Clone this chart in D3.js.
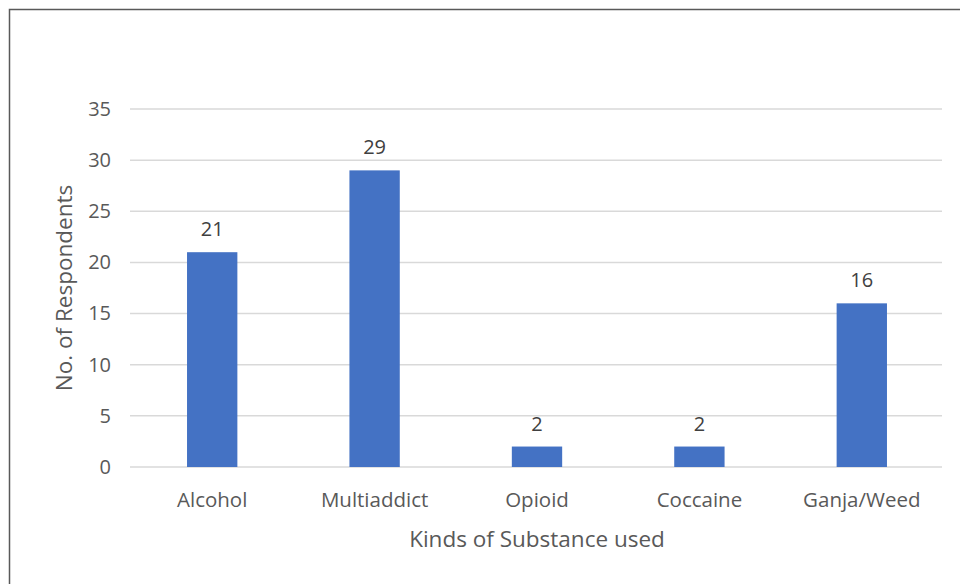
<!DOCTYPE html>
<html><head><meta charset="utf-8">
<script src="https://cdn.jsdelivr.net/npm/d3@7"></script>
<style>
html,body{margin:0;padding:0;background:#fff;}
svg{display:block;}
text{font-family:"Open Sans",sans-serif;}
</style></head>
<body>
<svg id="chart" width="960" height="584"></svg>
<script>
const categories = ["Alcohol","Multiaddict","Opioid","Coccaine","Ganja/Weed"];
const values = [21,29,2,2,16];
const yTicks = [0,5,10,15,20,25,30,35];
const xTitle = "Kinds of Substance used";
const yTitle = "No. of Respondents";

const svg = d3.select("#chart");
const mLeft = 130, mRight = 942, mTop = 109, mBottom = 467;

// outer border (top and left visible)
svg.append("path").attr("d","M9.5,584 L9.5,9.5 L960,9.5")
  .attr("fill","none").attr("stroke","#595959").attr("stroke-width",1.5);

const x = d3.scaleBand().domain(categories).range([mLeft,mRight]).paddingInner(0.69).paddingOuter(0.345);
const y = d3.scaleLinear().domain([0,35]).range([mBottom,mTop]);

// gridlines
svg.append("g").selectAll("line").data(yTicks).join("line")
  .attr("x1",mLeft).attr("x2",mRight)
  .attr("y1",d=>y(d)).attr("y2",d=>y(d))
  .attr("stroke","#d9d9d9").attr("stroke-width",1.5);

// y axis labels
const yAxis = d3.axisLeft(y).tickValues(yTicks).tickSize(0).tickPadding(0);
const gy = svg.append("g").attr("transform",`translate(111,0)`).call(yAxis);
gy.select(".domain").remove();
gy.selectAll("text").attr("fill","#595959").style("font-size","20px").style("font-family","'Open Sans',sans-serif");

// bars
svg.append("g").selectAll("rect").data(values).join("rect")
  .attr("x",(d,i)=>x(categories[i])+1)
  .attr("width",x.bandwidth())
  .attr("y",d=>y(d))
  .attr("height",d=>y(0)-y(d))
  .attr("fill","#4472C4");

// data labels
svg.append("g").selectAll("text").data(values).join("text")
  .attr("x",(d,i)=>x(categories[i])+x.bandwidth()/2+1)
  .attr("y",d=>y(d)-16)
  .attr("text-anchor","middle")
  .attr("fill","#404040").style("font-size","20px")
  .text(d=>d);

// x axis labels
const xAxis = d3.axisBottom(x).tickSize(0).tickPadding(0);
const gx = svg.append("g").attr("transform",`translate(1,${mBottom})`).call(xAxis);
gx.select(".domain").remove();
gx.selectAll("text").attr("fill","#595959").attr("dy",null).attr("y",40)
  .style("font-size","20.5px").style("font-family","'Open Sans',sans-serif");

// axis titles
svg.append("text").attr("x",537).attr("y",547)
  .attr("text-anchor","middle").attr("fill","#595959").style("font-size","22.5px")
  .text(xTitle);
svg.append("text").attr("transform","translate(72,288) rotate(-90)")
  .attr("text-anchor","middle").attr("fill","#595959").style("font-size","22.5px")
  .text(yTitle);
</script>
</body></html>
